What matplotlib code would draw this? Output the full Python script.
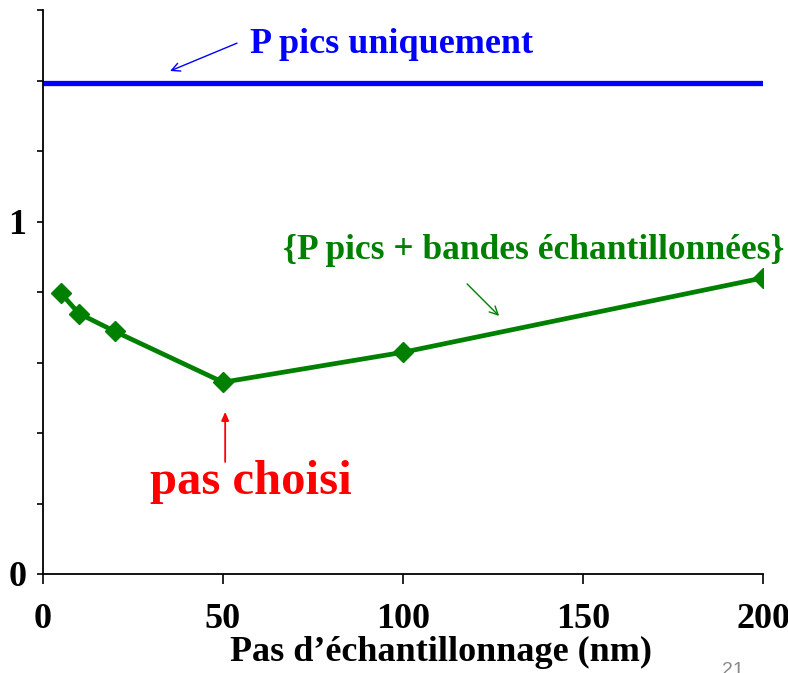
import matplotlib
matplotlib.use("Agg")
import matplotlib.pyplot as plt
from matplotlib.ticker import FixedLocator, FixedFormatter

# sampling step (nm) and the two error curves
pas = [5, 10, 20, 50, 100, 200]
erreur_bandes = [0.796, 0.739, 0.688, 0.544, 0.629, 0.840]
erreur_pics = 1.392
pas_range = [0, 200]

y_ticks = [0, 0.2, 0.4, 0.6, 0.8, 1.0, 1.2, 1.4, 1.6]
y_labels = ['0', '', '', '', '', '1', '', '', '']
x_ticks = [0, 50, 100, 150, 200]

plt.rcParams['font.family'] = ['Liberation Serif', 'DejaVu Serif']
plt.rcParams['font.weight'] = 'bold'

fig = plt.figure(figsize=(7.88, 6.73), dpi=100)
ax = fig.add_axes([43 / 788, 1 - 574 / 673, 720 / 788, 564 / 673])

ax.plot(pas_range, [erreur_pics, erreur_pics], color='#0000FF', lw=3.8,
        solid_capstyle='round')
ax.plot(pas, erreur_bandes, color='#008000', lw=3.4, marker='D', ms=10.5,
        solid_joinstyle='round')

ax.set_xlim(0, 200)
ax.set_ylim(0, 1.6)
ax.spines['top'].set_visible(False)
ax.spines['right'].set_visible(False)
for s in ('left', 'bottom'):
    ax.spines[s].set_linewidth(1.3)

ax.yaxis.set_major_locator(FixedLocator(y_ticks))
ax.yaxis.set_major_formatter(FixedFormatter(y_labels))
ax.set_xticks(x_ticks)
ax.tick_params(axis='y', length=4, width=1.2, pad=8, labelsize=26)
ax.tick_params(axis='x', length=7, width=1.2, pad=14, labelsize=26)
for lab in ax.get_xticklabels() + ax.get_yticklabels():
    lab.set_fontweight('bold')

fig.text(441 / 788, 1 - 652 / 673, "Pas d\u2019échantillonnage (nm)",
         fontsize=26, fontweight='bold', ha='center', va='center')

# blue: peaks only
ax.text(96.7, 1.501, 'P pics uniquement', color='#0000FF', fontsize=26,
        fontweight='bold', ha='center', va='center')
ax.annotate('', xy=(35.3, 1.427), xytext=(53.9, 1.506),
            arrowprops=dict(arrowstyle='->,head_length=0.6,head_width=0.3',
                            color='#0000FF', lw=1.0, shrinkA=0, shrinkB=0))

# green: peaks + sampled bands
ax.text(136.4, 0.919, '{P pics + bandes échantillonnées}', color='#008000',
        fontsize=25.5, fontweight='bold', ha='center', va='center')
ax.annotate('', xy=(126.7, 0.732), xytext=(117.8, 0.823),
            arrowprops=dict(arrowstyle='->,head_length=0.6,head_width=0.3',
                            color='#008000', lw=1.0, shrinkA=0, shrinkB=0))

# chosen step
ax.text(57.8, 0.261, 'pas choisi', color='#FF0000', fontsize=35,
        fontweight='bold', ha='center', va='center')
ax.annotate('', xy=(50.6, 0.46), xytext=(50.6, 0.318),
            arrowprops=dict(arrowstyle='-|>,head_length=0.5,head_width=0.22',
                            color='#FF0000', lw=1.3, shrinkA=0, shrinkB=0))

fig.text(733 / 788, 1 - 662 / 673, '21', color='#888888', fontsize=14,
         fontweight='normal', family='Liberation Sans', ha='center', va='top')

fig.savefig('out.png', dpi=100)
